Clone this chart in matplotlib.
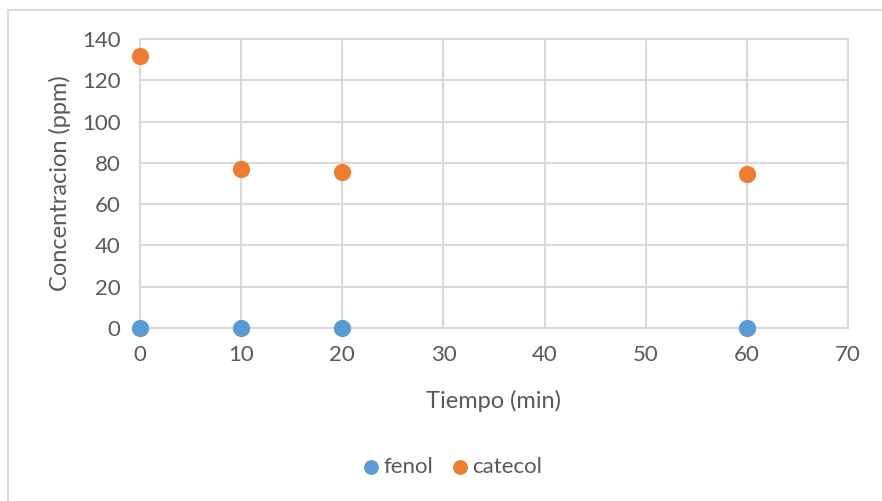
import matplotlib.pyplot as plt
from matplotlib.patches import Rectangle

#####################################
# Data
#####################################

tiempo = [0, 10, 20, 60]
fenol = [0, 0, 0, 0]
catecol = [132, 77, 75.5, 74.5]

x_ticks = [0, 10, 20, 30, 40, 50, 60, 70]
y_ticks = [0, 20, 40, 60, 80, 100, 120, 140]

TEXT = "#595959"
GRID = "#D9D9D9"

plt.rcParams["font.family"] = ["Lato", "DejaVu Sans"]

fig = plt.figure(figsize=(8.82, 5.01), dpi=100)

# light outer chart frame, running off the right and bottom edges
fig.patches.append(Rectangle((8 / 882, -0.05), 1.0, 1 - 10 / 501 + 0.05,
                             transform=fig.transFigure, fill=False,
                             edgecolor=GRID, linewidth=1.5))

ax = fig.add_axes([140 / 882, 1 - 328 / 501, 708 / 882, 289 / 501])

ax.scatter(tiempo, fenol, s=130, color="#5B9BD5", label="fenol", zorder=3, clip_on=False)
ax.scatter(tiempo, catecol, s=130, color="#ED7D31", label="catecol", zorder=3, clip_on=False)

ax.set_xlim(0, 70)
ax.set_ylim(0, 140)
ax.set_xticks(x_ticks)
ax.set_yticks(y_ticks)
ax.grid(True, color=GRID, linewidth=1.5)
ax.set_axisbelow(True)
for side in ax.spines.values():
    side.set_color(GRID)
    side.set_linewidth(1.5)
ax.tick_params(length=0, colors=TEXT, labelsize=16)
ax.tick_params(axis="y", pad=14)
ax.tick_params(axis="x", pad=12)

ax.set_xlabel("Tiempo (min)", color=TEXT, fontsize=17, labelpad=18)
ax.set_ylabel("Concentracion (ppm)", color=TEXT, fontsize=17, labelpad=8)

leg = fig.legend(loc="center", bbox_to_anchor=(451 / 882, 1 - 467 / 501), ncol=2,
                 frameon=False, fontsize=16, handletextpad=0.05, columnspacing=0.7,
                 handlelength=1.0, markerscale=0.85)
for t in leg.get_texts():
    t.set_color(TEXT)

fig.savefig("out.png", dpi=100)
